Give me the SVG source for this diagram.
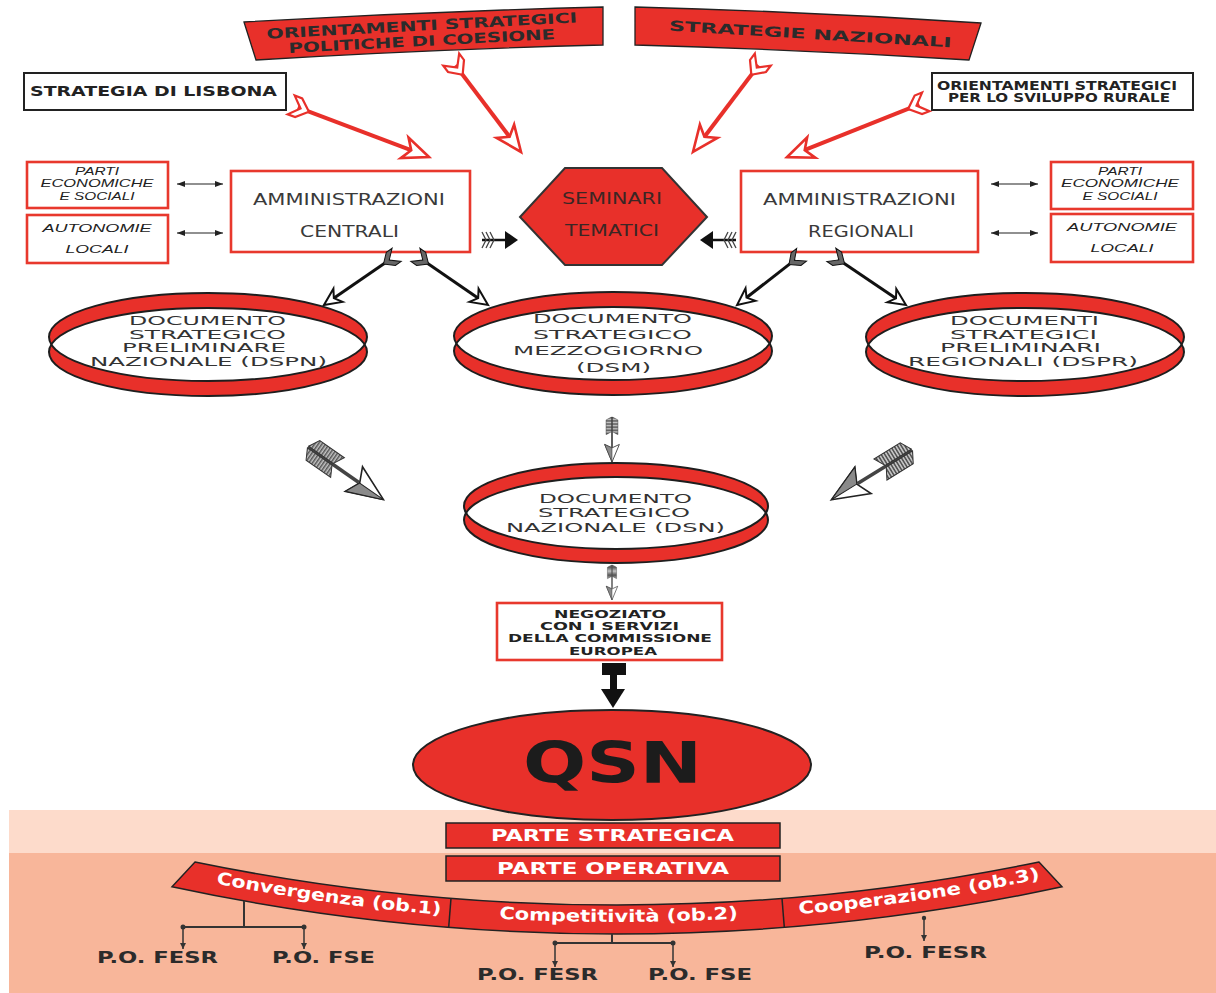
<svg xmlns="http://www.w3.org/2000/svg" width="1216" height="993" viewBox="0 0 1216 993">
<style>
text{font-family:"DejaVu Sans","Liberation Sans",sans-serif}
.banner{fill:#e8302a;stroke:#222;stroke-width:1.3}
.bt{font-weight:bold;font-size:14px;fill:#2b2b2b;text-anchor:middle}
.kbox{fill:#fff;stroke:#222;stroke-width:2}
.rbox{fill:#fff;stroke:#e8382d;stroke-width:2.6}
.kt{font-weight:bold;fill:#222;text-anchor:middle}
.it{font-family:"Liberation Sans",sans-serif;font-style:italic;font-size:11px;fill:#222;text-anchor:middle}
.adm{font-size:15px;fill:#3a3a3a;text-anchor:middle}
.hex{fill:#e8302a;stroke:#333;stroke-width:2}
.ht{font-size:15px;fill:#3b2624;text-anchor:middle}
.ring{fill:#e8302a}
.ringw{fill:#fff}
.ringl{fill:none;stroke:#1e1e1e;stroke-width:2}
.rt{font-size:13px;fill:#333;text-anchor:middle}
.rsh{stroke:#e8302a;stroke-width:4}
.bsh{stroke:#111;stroke-width:3}
.dbl{stroke:#222;stroke-width:1.2;marker-start:url(#dh);marker-end:url(#dh)}
.ng{font-weight:bold;font-size:11px;fill:#222;text-anchor:middle}
.redf{fill:#e8302a;stroke:#222;stroke-width:1.5}
.wt{font-weight:bold;font-size:16px;fill:#fff;text-anchor:middle}
.bandt{font-weight:bold;font-size:17px;fill:#fff}
.tr{stroke:#333;stroke-width:2;fill:none}
.tra{stroke:#333;stroke-width:1.5;fill:none;marker-end:url(#ta)}
.po{font-weight:bold;font-size:16px;fill:#2b2b2b;text-anchor:middle}
</style>
<defs>
<marker id="dh" viewBox="0 0 8 6" refX="8" refY="3" markerWidth="8" markerHeight="6" markerUnits="userSpaceOnUse" orient="auto-start-reverse"><path d="M0,0 L8,3 L0,6 z" fill="#222"/></marker>
<marker id="ta" viewBox="0 0 6 6" refX="6" refY="3" markerWidth="6" markerHeight="6" markerUnits="userSpaceOnUse" orient="auto"><path d="M0,0 L6,3 L0,6 z" fill="#333"/></marker>
<pattern id="stripes" width="3" height="4" patternUnits="userSpaceOnUse"><rect width="3" height="4" fill="#c4c4c4"/><rect width="1.5" height="4" fill="#555"/></pattern>
<g id="rhead"><polygon points="0,0 -26,-11 -19,0 -26,11" fill="#fff" stroke="#e8302a" stroke-width="2.6"/></g>
<g id="rfl"><polygon points="16,0 5,-10 -3,-10 7,0 -3,10 5,10" fill="#fff" stroke="#e8302a" stroke-width="2.2"/></g>
<g id="bhead"><polygon points="0,0 -17,-8 -12,0 -17,8" fill="#fff" stroke="#111" stroke-width="2"/></g>
<g id="bfl"><polygon points="14,0 5,-8 -2,-8 7,0 -2,8 5,8" fill="#666" stroke="#111" stroke-width="1"/></g>
<g id="garrow">
<line x1="0" y1="0" x2="62" y2="0" stroke="#444" stroke-width="3.5"/>
<polygon points="0,-1 6,-12 36,-12 30,-1" fill="url(#stripes)" stroke="#333" stroke-width="1"/>
<polygon points="0,1 6,12 36,12 30,1" fill="url(#stripes)" stroke="#333" stroke-width="1"/>
<polygon points="92,0 56,-15 63,0 56,15" fill="#fff" stroke="#222" stroke-width="1.6"/>
<polygon points="92,0 63,0 56,15" fill="#8a8a8a" stroke="#222" stroke-width="1"/>
</g>
<g id="harrow">
<line x1="0" y1="0" x2="26" y2="0" stroke="#111" stroke-width="2.5"/>
<polygon points="36,0 23,-9 23,9" fill="#111"/>
<path d="M0,-8 L4,0 L0,8 M4,-8 L8,0 L4,8 M8,-8 L12,0 L8,8" fill="none" stroke="#444" stroke-width="1.3"/>
</g>
<path id="arcText" d="M150,869.6 A2109,2109 0 0 0 1084,869.6"/>
</defs>

<rect x="9" y="810" width="1207" height="43" fill="#fddbcb"/>
<rect x="9" y="853" width="1207" height="140" fill="#f8b69a"/>

<g id="banner-coesione">
<path class="banner" d="M244,22 Q424,11.5 603,7 L603,45 Q428,49.5 256,60 Z"/>
<text class="bt" x="422" y="30.5" textLength="311" lengthAdjust="spacingAndGlyphs" transform="rotate(-3 422 30.5)">ORIENTAMENTI STRATEGICI</text>
<text class="bt" x="422" y="46" textLength="267" lengthAdjust="spacingAndGlyphs" transform="rotate(-3 422 46)">POLITICHE DI COESIONE</text>
</g>
<g id="banner-nazionali">
<path class="banner" d="M635,7 Q808,11.5 981,23 L969,60 Q802,49.5 635,45 Z"/>
<text class="bt" x="810" y="39" font-size="15" textLength="283" lengthAdjust="spacingAndGlyphs" transform="rotate(3.4 810 39)">STRATEGIE NAZIONALI</text>
</g>
<g id="lisbona">
<rect class="kbox" x="24" y="73" width="262" height="37"/>
<text class="kt" x="153.5" y="96" font-size="13.5" textLength="247" lengthAdjust="spacingAndGlyphs">STRATEGIA DI LISBONA</text>
</g>
<g id="rurale">
<rect class="kbox" x="932" y="73" width="261" height="37"/>
<text class="kt" x="1057" y="89.5" font-size="11.5" textLength="240" lengthAdjust="spacingAndGlyphs">ORIENTAMENTI STRATEGICI</text>
<text class="kt" x="1059" y="101.5" font-size="11.5" textLength="222" lengthAdjust="spacingAndGlyphs">PER LO SVILUPPO RURALE</text>
</g>

<g id="parti-sx">
<rect class="rbox" x="27" y="162" width="141" height="46"/>
<text class="it" x="97" y="175" textLength="44" lengthAdjust="spacingAndGlyphs">PARTI</text>
<text class="it" x="97" y="187" textLength="113" lengthAdjust="spacingAndGlyphs">ECONOMICHE</text>
<text class="it" x="97" y="200" textLength="75" lengthAdjust="spacingAndGlyphs">E SOCIALI</text>
</g>
<g id="autonomie-sx">
<rect class="rbox" x="27" y="215" width="141" height="48"/>
<text class="it" x="97" y="232" textLength="109" lengthAdjust="spacingAndGlyphs">AUTONOMIE</text>
<text class="it" x="97" y="253" textLength="63" lengthAdjust="spacingAndGlyphs">LOCALI</text>
</g>
<g id="amm-centrali">
<rect class="rbox" x="231" y="171" width="239" height="81"/>
<text class="adm" x="349" y="205" textLength="192" lengthAdjust="spacingAndGlyphs">AMMINISTRAZIONI</text>
<text class="adm" x="349.5" y="237" textLength="99" lengthAdjust="spacingAndGlyphs">CENTRALI</text>
</g>
<g id="seminari">
<polygon class="hex" points="520,217 565,168 662,168 707,217 662,265 565,265"/>
<text class="ht" x="612" y="204" textLength="100" lengthAdjust="spacingAndGlyphs">SEMINARI</text>
<text class="ht" x="612" y="236" textLength="94" lengthAdjust="spacingAndGlyphs">TEMATICI</text>
</g>
<g id="amm-regionali">
<rect class="rbox" x="741" y="171" width="237" height="81"/>
<text class="adm" x="859.5" y="205" textLength="193" lengthAdjust="spacingAndGlyphs">AMMINISTRAZIONI</text>
<text class="adm" x="861" y="237" textLength="106" lengthAdjust="spacingAndGlyphs">REGIONALI</text>
</g>
<g id="parti-dx">
<rect class="rbox" x="1051" y="162" width="142" height="47"/>
<text class="it" x="1120" y="175" textLength="44" lengthAdjust="spacingAndGlyphs">PARTI</text>
<text class="it" x="1120" y="187" textLength="118" lengthAdjust="spacingAndGlyphs">ECONOMICHE</text>
<text class="it" x="1120" y="200" textLength="75" lengthAdjust="spacingAndGlyphs">E SOCIALI</text>
</g>
<g id="autonomie-dx">
<rect class="rbox" x="1051" y="214" width="142" height="48"/>
<text class="it" x="1122" y="231" textLength="110" lengthAdjust="spacingAndGlyphs">AUTONOMIE</text>
<text class="it" x="1122" y="252" textLength="63" lengthAdjust="spacingAndGlyphs">LOCALI</text>
</g>

<g id="dspn">
<ellipse class="ring" cx="208" cy="337" rx="159" ry="44"/>
<ellipse class="ring" cx="208" cy="352" rx="159" ry="44"/>
<path class="ringw" d="M51.3,344.5 A159,44 0 0 1 364.7,344.5 A159,44 0 0 1 51.3,344.5 Z"/>
<ellipse class="ringl" cx="208" cy="337" rx="159" ry="44"/>
<ellipse class="ringl" cx="208" cy="352" rx="159" ry="44"/>
<text class="rt" x="207.5" y="325" textLength="157" lengthAdjust="spacingAndGlyphs">DOCUMENTO</text>
<text class="rt" x="207.5" y="338.5" textLength="157" lengthAdjust="spacingAndGlyphs">STRATEGICO</text>
<text class="rt" x="204" y="352" textLength="164" lengthAdjust="spacingAndGlyphs">PRELIMINARE</text>
<text class="rt" x="208.5" y="366" textLength="237" lengthAdjust="spacingAndGlyphs">NAZIONALE (DSPN)</text>
</g>
<g id="dsm">
<ellipse class="ring" cx="613" cy="336" rx="159" ry="44"/>
<ellipse class="ring" cx="613" cy="351" rx="159" ry="44"/>
<path class="ringw" d="M456.3,343.5 A159,44 0 0 1 769.7,343.5 A159,44 0 0 1 456.3,343.5 Z"/>
<ellipse class="ringl" cx="613" cy="336" rx="159" ry="44"/>
<ellipse class="ringl" cx="613" cy="351" rx="159" ry="44"/>
<text class="rt" x="612.5" y="323" font-size="14" textLength="159" lengthAdjust="spacingAndGlyphs">DOCUMENTO</text>
<text class="rt" x="612.5" y="339" font-size="14" textLength="159" lengthAdjust="spacingAndGlyphs">STRATEGICO</text>
<text class="rt" x="608" y="355" font-size="14" textLength="190" lengthAdjust="spacingAndGlyphs">MEZZOGIORNO</text>
<text class="rt" x="613.5" y="372" font-size="14" textLength="75" lengthAdjust="spacingAndGlyphs">(DSM)</text>
</g>
<g id="dspr">
<ellipse class="ring" cx="1025" cy="337" rx="159" ry="44"/>
<ellipse class="ring" cx="1025" cy="352" rx="159" ry="44"/>
<path class="ringw" d="M868.3,344.5 A159,44 0 0 1 1181.7,344.5 A159,44 0 0 1 868.3,344.5 Z"/>
<ellipse class="ringl" cx="1025" cy="337" rx="159" ry="44"/>
<ellipse class="ringl" cx="1025" cy="352" rx="159" ry="44"/>
<text class="rt" x="1024.5" y="325" textLength="149" lengthAdjust="spacingAndGlyphs">DOCUMENTI</text>
<text class="rt" x="1023.5" y="338.5" textLength="147" lengthAdjust="spacingAndGlyphs">STRATEGICI</text>
<text class="rt" x="1020.5" y="352" textLength="161" lengthAdjust="spacingAndGlyphs">PRELIMINARI</text>
<text class="rt" x="1023" y="366" textLength="230" lengthAdjust="spacingAndGlyphs">REGIONALI (DSPR)</text>
</g>
<g id="dsn">
<ellipse class="ring" cx="616" cy="506" rx="152" ry="43"/>
<ellipse class="ring" cx="616" cy="520" rx="152" ry="43"/>
<path class="ringw" d="M466,513 A152,43 0 0 1 766,513 A152,43 0 0 1 466,513 Z"/>
<ellipse class="ringl" cx="616" cy="506" rx="152" ry="43"/>
<ellipse class="ringl" cx="616" cy="520" rx="152" ry="43"/>
<text class="rt" x="615.5" y="503" font-size="14" textLength="153" lengthAdjust="spacingAndGlyphs">DOCUMENTO</text>
<text class="rt" x="614" y="517" font-size="14" textLength="152" lengthAdjust="spacingAndGlyphs">STRATEGICO</text>
<text class="rt" x="615.5" y="532" font-size="14" textLength="219" lengthAdjust="spacingAndGlyphs">NAZIONALE (DSN)</text>
</g>
<g id="negoziato">
<rect class="rbox" x="497" y="603" width="225" height="57"/>
<text class="ng" x="610" y="618" textLength="112" lengthAdjust="spacingAndGlyphs">NEGOZIATO</text>
<text class="ng" x="609.5" y="630" textLength="139" lengthAdjust="spacingAndGlyphs">CON I SERVIZI</text>
<text class="ng" x="610" y="642" textLength="204" lengthAdjust="spacingAndGlyphs">DELLA COMMISSIONE</text>
<text class="ng" x="613" y="655" textLength="88" lengthAdjust="spacingAndGlyphs">EUROPEA</text>
</g>
<g id="qsn">
<ellipse cx="612" cy="765" rx="199" ry="55" fill="#e8302a" stroke="#222" stroke-width="2"/>
<text x="612.5" y="783" font-size="57" font-weight="bold" fill="#1c1c1c" text-anchor="middle" textLength="179" lengthAdjust="spacingAndGlyphs">QSN</text>
</g>
<g id="parte-strategica">
<rect class="redf" x="446" y="823" width="334" height="25"/>
<text class="wt" x="612.5" y="841" textLength="243" lengthAdjust="spacingAndGlyphs">PARTE STRATEGICA</text>
</g>
<g id="parte-operativa">
<rect class="redf" x="446" y="856" width="334" height="25"/>
<text class="wt" x="613" y="874" textLength="232" lengthAdjust="spacingAndGlyphs">PARTE OPERATIVA</text>
</g>
<g id="obiettivi">
<path class="redf" d="M195,862 A2092,2092 0 0 0 1039,862 L1062,886.8 A2121,2121 0 0 1 172,886.8 Z"/>
<line x1="451" y1="898.4" x2="448.7" y2="927.3" stroke="#222" stroke-width="1.5"/>
<line x1="782" y1="898.5" x2="784.3" y2="927.3" stroke="#222" stroke-width="1.5"/>
<text class="bandt"><textPath href="#arcText" startOffset="67.5" textLength="227" lengthAdjust="spacingAndGlyphs">Convergenza (ob.1)</textPath></text>
<text class="bandt"><textPath href="#arcText" startOffset="353" textLength="239" lengthAdjust="spacingAndGlyphs">Competitività (ob.2)</textPath></text>
<text class="bandt"><textPath href="#arcText" startOffset="653" textLength="244" lengthAdjust="spacingAndGlyphs">Cooperazione  (ob.3)</textPath></text>
</g>
<g id="po-conv">
<text class="po" x="157.5" y="963" textLength="121" lengthAdjust="spacingAndGlyphs">P.O. FESR</text>
<text class="po" x="323.5" y="963" textLength="103" lengthAdjust="spacingAndGlyphs">P.O. FSE</text>
</g>
<g id="po-comp">
<text class="po" x="537.5" y="980" textLength="121" lengthAdjust="spacingAndGlyphs">P.O. FESR</text>
<text class="po" x="700" y="980" textLength="104" lengthAdjust="spacingAndGlyphs">P.O. FSE</text>
</g>
<g id="po-coop">
<text class="po" x="925.5" y="958" textLength="123" lengthAdjust="spacingAndGlyphs">P.O. FESR</text>
</g>

<g id="connectors">
<g transform="translate(294,106) rotate(20.7)"><line class="rsh" x1="4" y1="0" x2="125" y2="0"/><use href="#rfl"/><use href="#rhead" transform="translate(144.3,0)"/></g>
<g transform="translate(453,62) rotate(52.9)"><line class="rsh" x1="4" y1="0" x2="94" y2="0"/><use href="#rfl"/><use href="#rhead" transform="translate(112.8,0)"/></g>
<g transform="translate(761,62) rotate(127.1)"><line class="rsh" x1="4" y1="0" x2="94" y2="0"/><use href="#rfl"/><use href="#rhead" transform="translate(112.8,0)"/></g>
<g transform="translate(923,103) rotate(158.3)"><line class="rsh" x1="4" y1="0" x2="127" y2="0"/><use href="#rfl"/><use href="#rhead" transform="translate(146.3,0)"/></g>

<line class="dbl" x1="177" y1="184" x2="223" y2="184"/>
<line class="dbl" x1="177" y1="233" x2="223" y2="233"/>
<line class="dbl" x1="991" y1="184" x2="1038" y2="184"/>
<line class="dbl" x1="991" y1="233" x2="1038" y2="233"/>

<use href="#harrow" transform="translate(482,240)"/>
<use href="#harrow" transform="translate(736,240) rotate(180)"/>

<g transform="translate(395,256) rotate(145.4)"><line class="bsh" x1="6" y1="0" x2="74" y2="0"/><use href="#bfl"/><use href="#bhead" transform="translate(86.3,0)"/></g>
<g transform="translate(417,256) rotate(34.6)"><line class="bsh" x1="6" y1="0" x2="74" y2="0"/><use href="#bfl"/><use href="#bhead" transform="translate(86.3,0)"/></g>
<g transform="translate(800,256) rotate(142.1)"><line class="bsh" x1="6" y1="0" x2="68" y2="0"/><use href="#bfl"/><use href="#bhead" transform="translate(79.8,0)"/></g>
<g transform="translate(833,256) rotate(33.9)"><line class="bsh" x1="6" y1="0" x2="76" y2="0"/><use href="#bfl"/><use href="#bhead" transform="translate(87.9,0)"/></g>

<use href="#garrow" transform="translate(308,447) rotate(34.9)"/>
<use href="#garrow" transform="translate(912,450) rotate(148.3) scale(1.03)"/>
<use href="#garrow" transform="translate(612,417) rotate(90) scale(0.49)"/>
<use href="#garrow" transform="translate(612,565) rotate(90) scale(0.38)"/>

<rect x="602" y="663" width="24" height="12" fill="#111"/>
<rect x="610" y="675" width="7" height="15" fill="#111"/>
<polygon points="601,689 625,689 613,708" fill="#111"/>

<path class="tr" d="M244,901 V927 M183,927 H304"/>
<circle cx="183" cy="927" r="2.5" fill="#333"/>
<circle cx="304" cy="927" r="2.5" fill="#333"/>
<line class="tra" x1="183" y1="927" x2="183" y2="949"/>
<line class="tra" x1="304" y1="927" x2="304" y2="949"/>
<path class="tr" d="M612,934 V943 M555,943 H673"/>
<circle cx="555" cy="943" r="2.5" fill="#333"/>
<circle cx="673" cy="943" r="2.5" fill="#333"/>
<line class="tra" x1="555" y1="943" x2="555" y2="967"/>
<line class="tra" x1="673" y1="943" x2="673" y2="967"/>
<circle cx="924" cy="918" r="2.2" fill="#333"/>
<line class="tra" x1="924" y1="918" x2="924" y2="941"/>
</g>
</svg>
